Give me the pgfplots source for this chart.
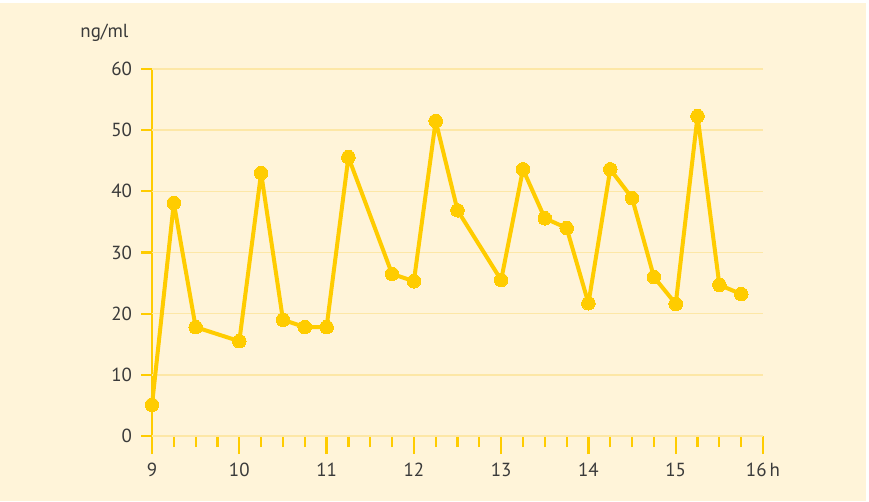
\documentclass[border=0pt]{standalone}
\usepackage{fontspec}
\setmainfont{PT Sans}
\usepackage{pgfplots}
\pgfplotsset{compat=1.18}
\definecolor{bgcream}{HTML}{FFF4D9}
\definecolor{gold}{HTML}{FFCC00}
\definecolor{gridy}{HTML}{FDE7A6}
\definecolor{txt}{HTML}{3A3A3A}

\begin{document}
\begin{tikzpicture}[x=1bp,y=1bp]
  % background panel, 0.5bp per reference pixel
  \fill[white] (0,0) rectangle (434.5,250.5);
  \fill[bgcream] (0,0) rectangle (433,249);
  \begin{axis}[
      at={(76bp,32.5bp)}, anchor=south west,
      scale only axis,
      width=305.5bp, height=183.5bp,
      xmin=9, xmax=16, ymin=0, ymax=60,
      axis x line*=bottom, axis y line*=left,
      axis line style={gold, line width=1.2bp, -},
      xtick={9,...,16},
      xticklabels={9,10,11,12,13,14,15,16\,h},
      minor xtick={9.25,9.5,9.75,10.25,10.5,10.75,11.25,11.5,11.75,
        12.25,12.5,12.75,13.25,13.5,13.75,14.25,14.5,14.75,
        15.25,15.5,15.75},
      ytick=\empty,
      extra y ticks={0,10,...,60},
      extra y tick style={major tick length=5.5bp, ymajorgrids,
        grid style={gridy, line width=0.8bp}},
      tick style={gold, line width=1.1bp},
      major tick length=9bp,
      minor tick length=5.5bp,
      xtick align=outside, ytick align=outside,
      tick label style={font=\fontsize{9.5}{10}\selectfont, text=txt},
      /pgf/number format/assume math mode=true,
      xticklabel style={yshift=-1bp},
      yticklabel style={xshift=-1bp},
      clip=false,
    ]
    \addplot[gold, line width=2bp, line join=round, mark=*, mark size=3.4bp,
             mark options={fill=gold, draw=gold, line width=0pt}]
      coordinates {
        (9,5.1)(9.25,38.1)(9.5,17.8)(10,15.5)(10.25,43)(10.5,19)
        (10.75,17.8)(11,17.8)(11.25,45.6)(11.75,26.5)(12,25.3)
        (12.25,51.5)(12.5,36.9)(13,25.5)(13.25,43.6)(13.5,35.6)
        (13.75,34)(14,21.7)(14.25,43.6)(14.5,38.9)(14.75,26)
        (15,21.6)(15.25,52.3)(15.5,24.7)(15.75,23.2)
      };
  \end{axis}
  \node[anchor=base west, font=\fontsize{9.5}{10}\selectfont, text=txt, inner sep=0pt]
    at (40,232) {ng/ml};
\end{tikzpicture}
\end{document}
